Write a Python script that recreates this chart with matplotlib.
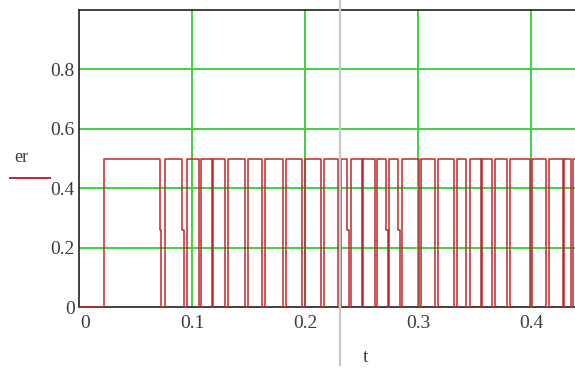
import matplotlib
matplotlib.use("Agg")
import matplotlib.pyplot as plt
import matplotlib.transforms as mtransforms
from matplotlib.lines import Line2D

# er(t): switching instants and the level held after each one
t_sw = [0.0, 0.0221,
        0.0712, 0.0725, 0.0760,
        0.0911, 0.0928, 0.0955,
        0.1065, 0.1079,
        0.1176, 0.1189,
        0.1291, 0.1317,
        0.1468, 0.1494,
        0.1618, 0.1645,
        0.1804, 0.1830,
        0.1975, 0.2000,
        0.2140, 0.2166,
        0.2286, 0.2294, 0.2317,
        0.2370, 0.2383, 0.2405,
        0.2502, 0.2515,
        0.2613, 0.2639,
        0.2714, 0.2728, 0.2745,
        0.2821, 0.2838, 0.2856,
        0.3006, 0.3024,
        0.3148, 0.3174,
        0.3316, 0.3342,
        0.3426, 0.3453,
        0.3550, 0.3563,
        0.3651, 0.3674,
        0.3784, 0.3811,
        0.3988, 0.4005,
        0.4129, 0.4156,
        0.4275, 0.4288,
        0.4350, 0.4368]
er_lv = [0.0, 0.5,
         0.26, 0.0, 0.5,
         0.26, 0.0, 0.5,
         0.0, 0.5,
         0.0, 0.5,
         0.0, 0.5,
         0.0, 0.5,
         0.0, 0.5,
         0.0, 0.5,
         0.0, 0.5,
         0.0, 0.5,
         0.26, 0.0, 0.5,
         0.26, 0.0, 0.5,
         0.0, 0.5,
         0.0, 0.5,
         0.26, 0.0, 0.5,
         0.26, 0.0, 0.5,
         0.0, 0.5,
         0.0, 0.5,
         0.0, 0.5,
         0.0, 0.5,
         0.0, 0.5,
         0.0, 0.5,
         0.0, 0.5,
         0.0, 0.5,
         0.0, 0.5,
         0.0, 0.5,
         0.0, 0.5]
t_end = 0.45
t_cursor = 0.2308

x_ticks = [0, 0.1, 0.2, 0.3, 0.4]
x_labels = ["0", "0.1", "0.2", "0.3", "0.4"]
y_ticks = [0, 0.2, 0.4, 0.6, 0.8]
y_labels = ["0", "0.2", "0.4", "0.6", "0.8"]

serif = "Liberation Serif"
txt_col = "#3c3c3c"
red = "#bb2a2e"
green = "#40d040"

fig = plt.figure(figsize=(5.75, 3.69), dpi=100)
ax = fig.add_axes([79 / 575, 62 / 369, 496 / 575, 297 / 369])

ax.set_xlim(0, 496 / 1131)
ax.set_ylim(0, 1.0)

# green grid
for v in y_ticks[1:]:
    ax.axhline(v, color=green, lw=1.4, zorder=1)
for v in x_ticks[1:]:
    ax.axvline(v, color=green, lw=1.4, zorder=1)

ax.step(t_sw + [t_end], er_lv + [er_lv[-1]], where="post",
        color=red, lw=1.1, zorder=3, clip_on=False)

ax.set_xticks(x_ticks)
ax.set_xticklabels(x_labels)
ax.set_yticks(y_ticks)
ax.set_yticklabels(y_labels)
ax.tick_params(length=0, pad=6, labelsize=14, labelcolor=txt_col)
for lab in ax.get_xticklabels() + ax.get_yticklabels():
    lab.set_fontfamily(serif)
ax.tick_params(axis="y", pad=3)

# first x label sits a little right of the corner
first = ax.get_xticklabels()[0]
first.set_transform(first.get_transform() +
                    mtransforms.ScaledTranslation(6 / 100, 0, fig.dpi_scale_trans))

for s in ["left", "bottom", "top"]:
    ax.spines[s].set_color("#202020")
    ax.spines[s].set_linewidth(1.2)
ax.spines["right"].set_visible(False)

# trace name with its line sample
fig.text(14 / 575, 1 - 158 / 369, "er", family=serif, fontsize=13,
         color=txt_col, va="center", ha="left")
fig.add_artist(Line2D([10 / 575, 50 / 575], [1 - 178 / 369, 1 - 178 / 369],
                      color=red, lw=1.4, transform=fig.transFigure))

fig.text(366 / 575, 1 - 357 / 369, "t", family=serif, fontsize=14,
         color=txt_col, va="center", ha="center")

# cursor line
cx = (79 + t_cursor * 1131) / 575
fig.add_artist(Line2D([cx, cx], [0.01, 1.0], color="#c8c8c8", lw=1.6,
                      transform=fig.transFigure, zorder=5))

fig.savefig("out.png", dpi=100)
